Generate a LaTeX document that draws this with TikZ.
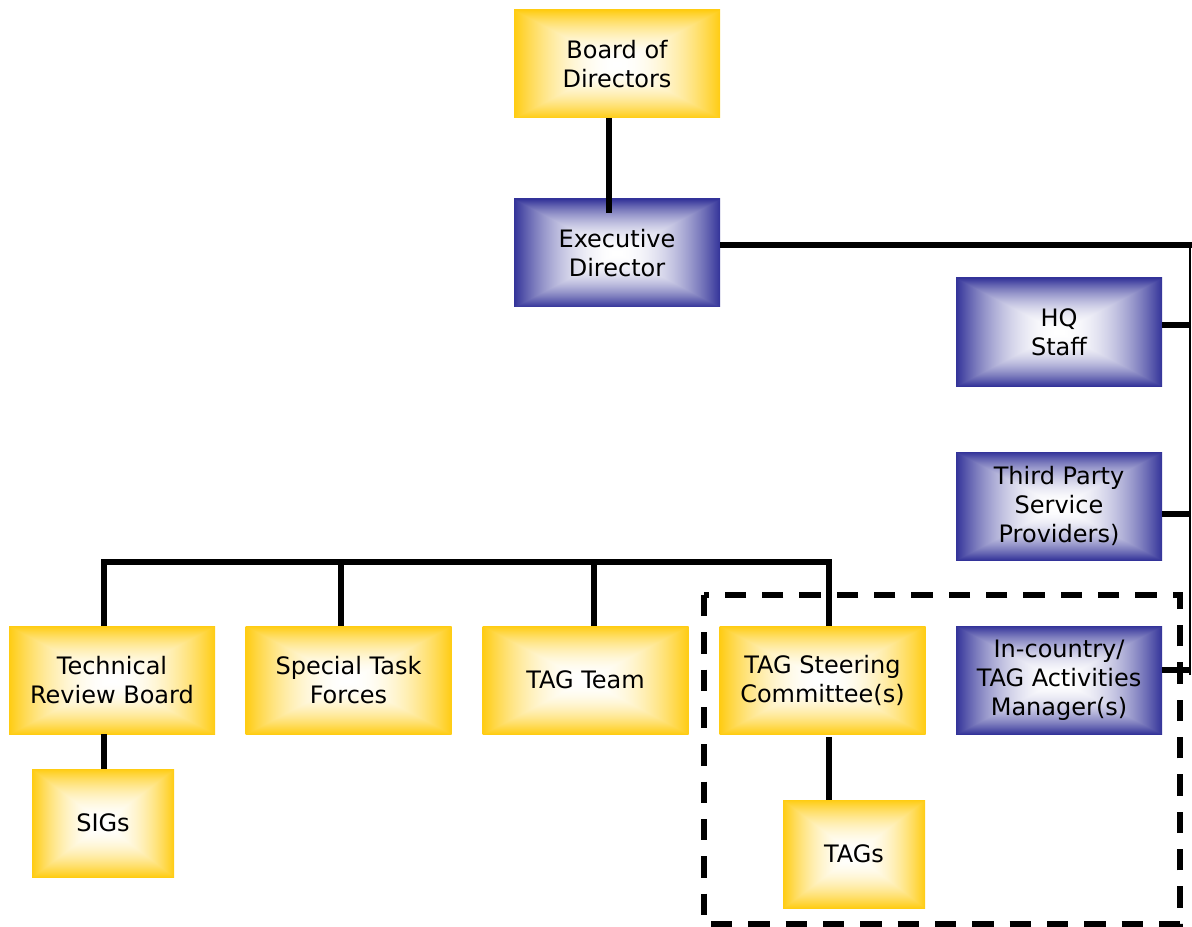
\documentclass[tikz,border=0pt]{standalone}
\usepackage{fontspec}
\setmainfont{DejaVu Sans}
\pgfdeclarefunctionalshading{goldbox}{\pgfpointorigin}{\pgfpoint{100bp}{100bp}}{}{
50 sub abs 25 div exch 50 sub abs 25 div 2 copy lt {exch} if pop
dup 1 gt {pop 1} if
dup mul
dup dup
0.93 mul 1 exch sub 3 1 roll
0.2 mul 1 exch sub 3 1 roll
0 mul 1 exch sub 3 1 roll
}
\pgfdeclarefunctionalshading{bluebox}{\pgfpointorigin}{\pgfpoint{100bp}{100bp}}{}{
50 sub abs 25 div exch 50 sub abs 25 div 2 copy lt {exch} if pop
dup 1 gt {pop 1} if
dup mul
dup dup
0.4 mul 1 exch sub 3 1 roll
0.8 mul 1 exch sub 3 1 roll
0.8 mul 1 exch sub 3 1 roll
}
\tikzset{
  box/.style={rectangle, inner sep=0pt, minimum width=154.5pt, minimum height=81pt,
    align=center, font=\fontsize{18}{21.75}\selectfont},
  goldnode/.style={box, shading=goldbox},
  bluenode/.style={box, shading=bluebox},
  small/.style={minimum width=106.5pt},
  conn/.style={line width=4.2pt, black},
  spine/.style={line width=1.6pt, black},
  dashbox/.style={line width=4.5pt, dash pattern=on 16pt off 12pt, black}
}
\begin{document}
\begin{tikzpicture}[x=0.75pt,y=-0.75pt]
\useasboundingbox (0,0) rectangle (1192,927);
\node[goldnode] (bod) at (617,64) {Board of\\Directors};
\node[bluenode] (exec) at (617,253) {Executive\\Director};
\node[bluenode] (hq) at (1059,332) {HQ\\Staff};
\node[bluenode] (tpsp) at (1059,506) {Third Party\\Service\\Providers)};
\node[bluenode] (icm) at (1059,680) {In-country/\\TAG Activities\\Manager(s)};
\node[goldnode] (trb) at (112,680) {Technical\\Review Board};
\node[goldnode] (stf) at (348.5,680) {Special Task\\Forces};
\node[goldnode] (tagteam) at (585.5,680) {TAG Team};
\node[goldnode] (tsc) at (822.5,680) {TAG Steering\\Committee(s)};
\node[goldnode, small] (sigs) at (103,823) {SIGs};
\node[goldnode, small] (tags) at (854,854) {TAGs};
% connectors
\coordinate (be) at (609,213);
\draw[conn] (bod.south -| be) -- (be);
\coordinate (er) at (1192,245);
\draw[conn] (exec.east |- er) -- (er);
\coordinate (st) at (1190,245);
\coordinate (sb) at (1190,675);
\draw[spine] (st) -- (sb);
\coordinate (hqr) at (1190,325);
\draw[conn] (hq.east |- hqr) -- (hqr);
\coordinate (tpr) at (1190,514);
\draw[conn] (tpsp.east |- tpr) -- (tpr);
\coordinate (icr) at (1190,670);
\draw[conn] (icm.east |- icr) -- (icr);
\coordinate (bl) at (104,562);
\coordinate (br) at (829,562);
\draw[conn] (trb.north -| bl) -- (bl) -- (br) -- (tsc.north -| br);
\coordinate (b2) at (341,562);
\draw[conn] (b2) -- (stf.north -| b2);
\coordinate (b3) at (594,562);
\draw[conn] (b3) -- (tagteam.north -| b3);
\draw[conn] (trb.south -| bl) -- (sigs.north -| bl);
\draw[conn] ([yshift=-2pt]tsc.south -| br) -- (tags.north -| br);
% dashed region
\draw[dashbox] (704,595) rectangle (1180,924);
\end{tikzpicture}
\end{document}
